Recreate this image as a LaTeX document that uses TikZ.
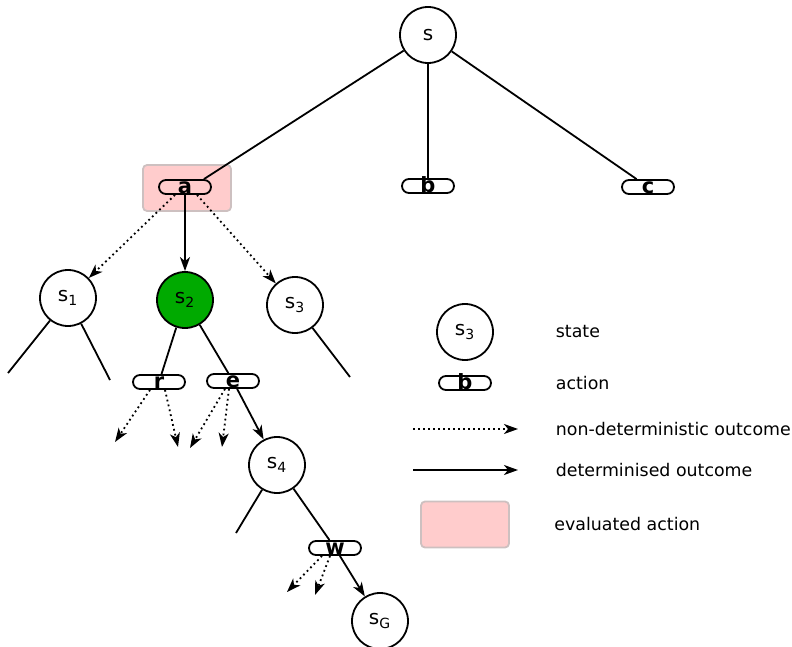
\documentclass[tikz,border=0pt]{standalone}
\usepackage{fontspec}
\setmainfont{DejaVu Sans}
\usetikzlibrary{positioning,arrows.meta}
\definecolor{evalpink}{RGB}{255,204,204}
\definecolor{evalgray}{RGB}{205,192,192}
\definecolor{stategreen}{RGB}{0,170,0}
\newcommand{\sn}[1]{s\textsubscript{#1}}

\begin{document}
\begin{tikzpicture}[on grid,line width=0.9pt,
   >={Stealth[length=7pt,width=5pt,inset=2pt]},
   font=\fontsize{8.7pt}{10pt}\selectfont,
   st/.style={circle,draw,minimum size=28pt,inner sep=0pt,font=\fontsize{10pt}{12pt}\selectfont},
   act/.style={draw,rounded corners=3.5pt,minimum width=26pt,inner xsep=0pt,inner ysep=0.5pt,
      text height=6pt,text depth=0pt,font=\fontsize{10.5pt}{12pt}\selectfont\bfseries},
   evald/.style={fill=evalpink,draw=evalgray,rounded corners=2pt,minimum width=44pt,minimum height=23pt},
   nondet/.style={->,dash pattern=on 0.9pt off 1.6pt},
   lgtext/.style={anchor=west,inner sep=0pt}]
   \useasboundingbox (0,0) rectangle (396pt,-323.5pt);
   \node[st] (s) at (214pt,-17.5pt) {s};
   \node[evald] (ev) [below left=76.5pt and 120.5pt of s] {};
   \node[act] (a) [below left=76pt and 121.5pt of s] {a};
   \node[act] (b) [below=75.5pt of s] {b};
   \node[act] (c) [below right=76pt and 110pt of s] {c};
   \node[st] (s1) [below left=55.5pt and 58.5pt of a] {\sn{1}};
   \node[st,fill=stategreen] (s2) [below=56.5pt of a] {\sn{2}};
   \node[st] (s3) [below right=59pt and 55pt of a] {\sn{3}};
   \node[act] (r) [below left=41pt and 13pt of s2] {r};
   \node[act] (e) [below right=40.5pt and 24pt of s2] {e};
   \node[st] (s4) [below right=42pt and 22pt of e] {\sn{4}};
   \node[act] (w) [below right=41.5pt and 29pt of s4] {w};
   \node[st] (sG) [below right=36.5pt and 22.5pt of w] {\sn{G}};
   \coordinate[below left=37.5pt and 30pt of s1] (s1l);
   \coordinate[below right=41pt and 21pt of s1] (s1r);
   \coordinate[below right=36pt and 27.5pt of s3] (s3r);
   \coordinate[below left=34pt and 20.5pt of s4] (s4l);
   \coordinate[below left=30pt and 22pt of r] (r1);
   \coordinate[below right=32.5pt and 9.5pt of r] (r2);
   \coordinate[below left=33.5pt and 21.5pt of e] (e1);
   \coordinate[below left=33pt and 5.5pt of e] (e2);
   \coordinate[below left=22pt and 24pt of w] (w1);
   \coordinate[below left=23.5pt and 10pt of w] (w2);
   \path (s) edge ([xshift=-4pt]a.north east) edge (b) edge (c)
      (s1) edge (s1l) edge (s1r)
      (s3) edge (s3r)
      (s2) edge (r) edge (e)
      (s4) edge (s4l) edge (w);
   \path[->] (a) edge (s2)
      (e) edge (s4)
      (w) edge (sG);
   \path[nondet] ([xshift=-5pt]a.south) edge (s1)
      ([xshift=6pt]a.south) edge (s3)
      ([xshift=-4.5pt]r.south) edge (r1)
      ([xshift=3pt]r.south) edge (r2)
      ([xshift=-4pt]e.south) edge (e1)
      ([xshift=-2pt]e.south) edge (e2)
      ([xshift=-6.5pt]w.south) edge (w1)
      ([xshift=-2.5pt]w.south) edge (w2);
   \node[st] (ls3) [below right=13.5pt and 85pt of s3] {\sn{3}};
   \node[act] (lb) [below=25.5pt of ls3] {b};
   \coordinate[below left=23pt and 26pt of lb] (nd0);
   \coordinate[right=52.5pt of nd0] (nd1);
   \coordinate[below=20.5pt of nd0] (dt0);
   \coordinate[right=52.5pt of dt0] (dt1);
   \node[evald] (lev) [below=70.75pt of lb] {};
   \path[nondet] (nd0) edge (nd1);
   \path[->] (dt0) edge (dt1);
   \node[lgtext] (tst) [right=45pt of ls3,anchor=west] {state};
   \node[lgtext] (tac) [right=45pt of lb,anchor=west] {action};
   \node[lgtext] (tnd) [right=71pt of nd0,anchor=west] {non-deterministic outcome};
   \node[lgtext] (tdt) [right=71pt of dt0,anchor=west] {determinised outcome};
   \node[lgtext] (tev) [right=44.25pt of lev,anchor=west] {evaluated action};
\end{tikzpicture}
\end{document}
